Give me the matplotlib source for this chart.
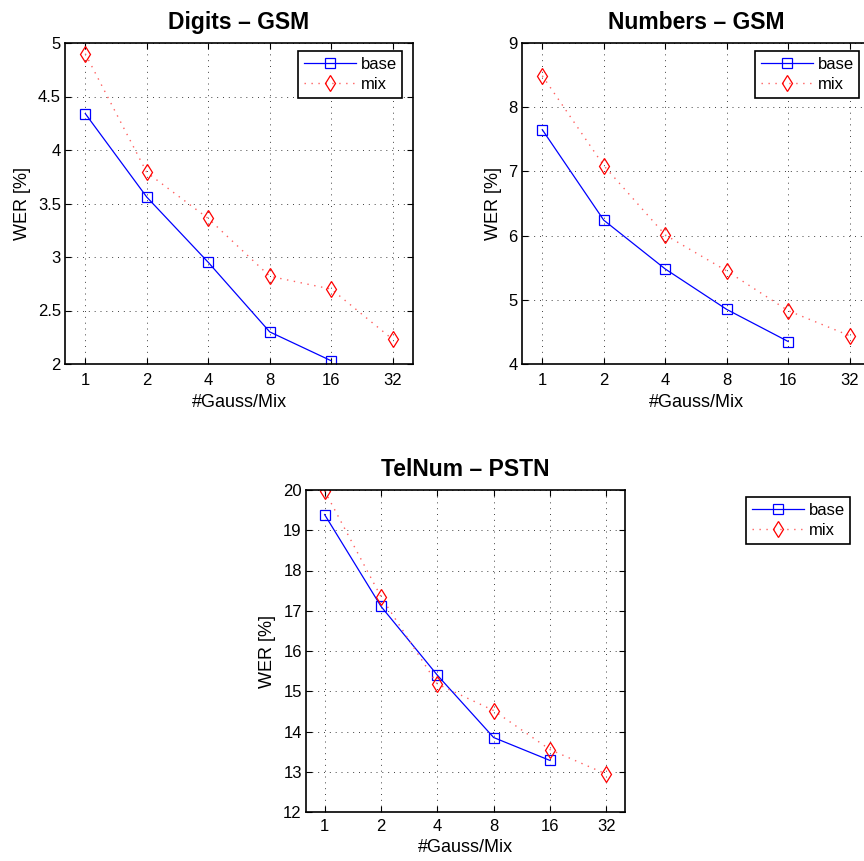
import numpy as np
import matplotlib
matplotlib.use('Agg')
import matplotlib.pyplot as plt

plt.rcParams['font.family'] = ['Liberation Sans', 'DejaVu Sans']

# number of gaussians per mixture
gauss = [1, 2, 4, 8, 16, 32]
gauss_labels = ['1', '2', '4', '8', '16', '32']

# WER values (base has no 32 point)
digits_base = [4.34, 3.56, 2.95, 2.30, 2.03]
digits_mix = [4.90, 3.79, 3.36, 2.82, 2.70, 2.23]

numbers_base = [7.65, 6.24, 5.48, 4.85, 4.35]
numbers_mix = [8.49, 7.09, 6.01, 5.45, 4.83, 4.44]

telnum_base = [19.39, 17.11, 15.40, 13.85, 13.28]
telnum_mix = [19.98, 17.35, 15.18, 14.52, 13.55, 12.94]

W, H = 864, 861
fig = plt.figure(figsize=(W / 100, H / 100), dpi=100)

leg_kw = dict(fontsize=12, fancybox=False, edgecolor='black', framealpha=1,
              handlelength=3.1, handletextpad=0.3, labelspacing=0.3,
              borderpad=0.35, numpoints=1)


def box(l, t, r, b):
    # pixel box -> figure fraction
    return [l / W, 1 - b / H, (r - l) / W, (b - t) / H]


def panel(rect, title, base, mix, ylim, yticks, ylabels, xpad, xlabpad):
    ax = fig.add_axes(rect)
    ax.set_xscale('log', base=2)
    ax.plot(gauss[:len(base)], base, '-s', color='blue', lw=0.9, ms=6.5,
            mfc='none', mec='blue', mew=0.9, label='base')
    ax.plot(gauss[:len(mix)], mix, marker='d', linestyle=(0, (1, 4)),
            color='#ff6060', lw=1.0, ms=8.5, mfc='none', mec='red',
            mew=0.9, label='mix')
    ax.set_xlim(2 ** -0.33, 2 ** 5.33)
    ax.set_xticks(gauss)
    ax.set_xticklabels(gauss_labels)
    ax.xaxis.set_minor_locator(matplotlib.ticker.NullLocator())
    ax.set_ylim(*ylim)
    ax.set_yticks(yticks)
    ax.set_yticklabels(ylabels)
    ax.tick_params(direction='in', top=True, right=True, labelsize=12,
                   length=4, width=0.8)
    ax.tick_params(axis='y', pad=3)
    ax.tick_params(axis='x', pad=xpad)
    ax.grid(True, color='0.25', linestyle=(0, (1, 5)), linewidth=0.7)
    for s in ax.spines.values():
        s.set_linewidth(1.2)
    ax.set_title(title, fontsize=16.5, fontweight='bold', pad=10)
    ax.set_xlabel('#Gauss/Mix', fontsize=13, labelpad=xlabpad)
    ax.set_ylabel('WER [%]', fontsize=13, labelpad=5)
    return ax


ax_l = panel(box(65, 43, 413, 364), 'Digits \u2013 GSM', digits_base, digits_mix,
             (2, 5), [2, 2.5, 3, 3.5, 4, 4.5, 5],
             ['2', '2.5', '3', '3.5', '4', '4.5', '5'], 6.5, 4)
ax_l.legend(loc='upper left', bbox_to_anchor=(298 / W, 1 - 51 / H),
            bbox_transform=fig.transFigure, borderaxespad=0,
            **leg_kw).get_frame().set_linewidth(1.2)

# right panel runs past the figure edge, as in the original
ax_r = panel(box(522, 43, 870, 364), 'Numbers \u2013 GSM', numbers_base, numbers_mix,
             (4, 9), [4, 5, 6, 7, 8, 9], ['4', '5', '6', '7', '8', '9'], 6.5, 4)
ax_r.legend(loc='upper left', bbox_to_anchor=(755 / W, 1 - 51 / H),
            bbox_transform=fig.transFigure, borderaxespad=0,
            **leg_kw).get_frame().set_linewidth(1.2)

ax_b = panel(box(306, 490, 625, 812), 'TelNum \u2013 PSTN', telnum_base, telnum_mix,
             (12, 20), list(range(12, 21)), [str(v) for v in range(12, 21)], 5, 4)
ax_b.legend(loc='upper left', bbox_to_anchor=(746 / W, 1 - 497 / H),
            bbox_transform=fig.transFigure, borderaxespad=0,
            **leg_kw).get_frame().set_linewidth(1.2)

fig.savefig('out.png', dpi=100)
